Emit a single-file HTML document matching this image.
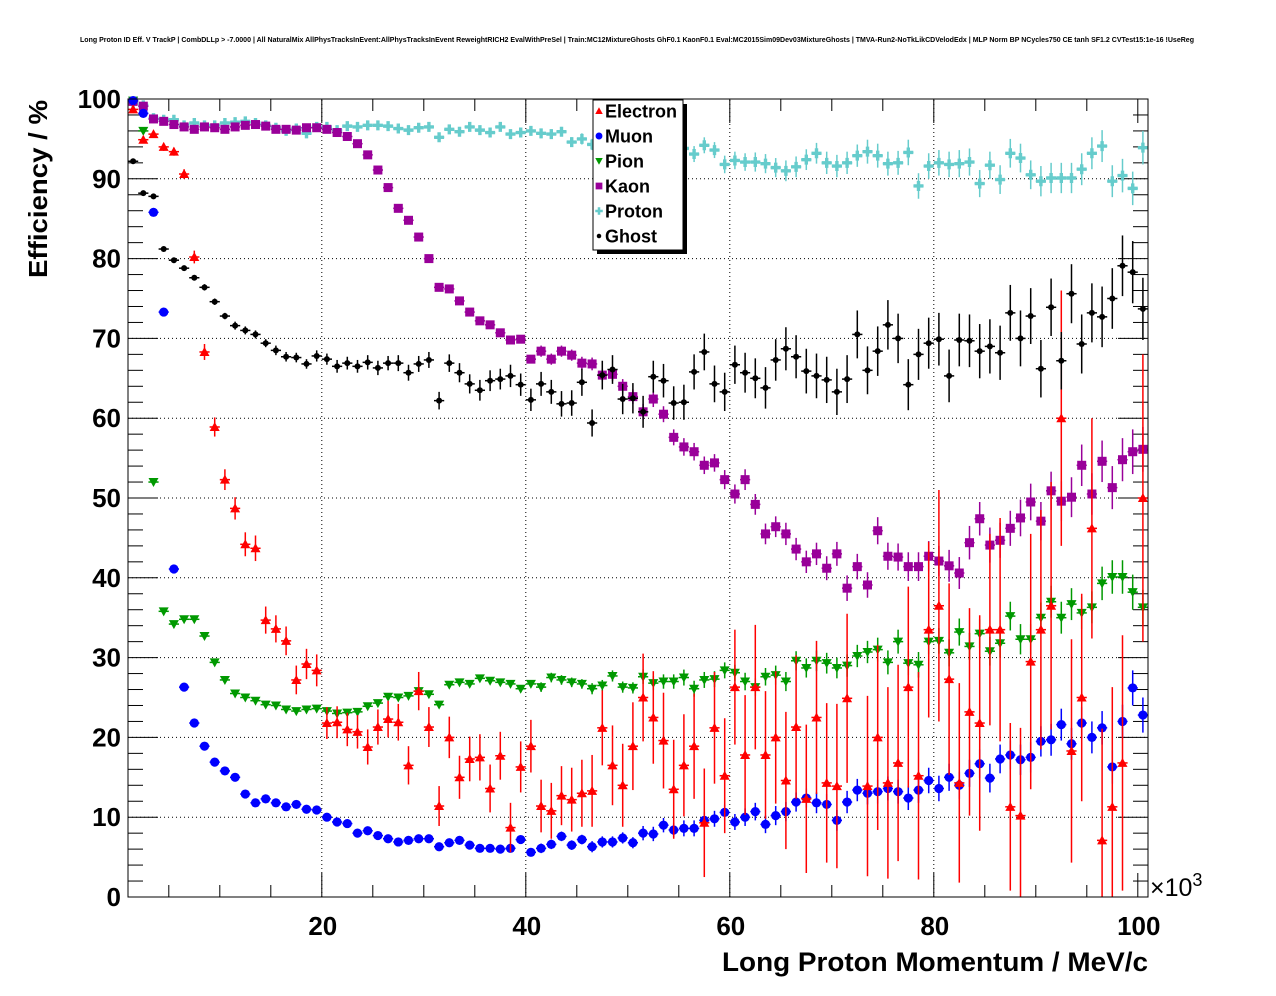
<!DOCTYPE html>
<html><head><meta charset="utf-8"><style>
html,body{margin:0;padding:0;background:#fff;}
svg{display:block;font-family:"Liberation Sans",Arial,sans-serif;}
</style></head><body>
<svg id="chart" width="1276" height="996" viewBox="0 0 1276 996" xmlns="http://www.w3.org/2000/svg">
<rect x="0" y="0" width="1276" height="996" fill="#fff"/>
<text x="637" y="42" font-size="7" font-weight="bold" text-anchor="middle" textLength="1114" lengthAdjust="spacingAndGlyphs">Long Proton ID Eff. V TrackP | CombDLLp &gt; -7.0000 | All NaturalMix AllPhysTracksInEvent:AllPhysTracksInEvent ReweightRICH2 EvalWithPreSel | Train:MC12MixtureGhosts GhF0.1 KaonF0.1 Eval:MC2015Sim09Dev03MixtureGhosts | TMVA-Run2-NoTkLikCDVelodEdx | MLP Norm BP NCycles750 CE tanh SF1.2 CVTest15:1e-16 !UseReg</text>
<g id="grid"></g>
<g id="axes"></g>
<g id="series"></g>
<rect x="128" y="99" width="1020" height="798" fill="none" stroke="#000" stroke-width="1"/>
<text x="47" y="100" font-size="26" font-weight="bold" text-anchor="end" textLength="178" lengthAdjust="spacingAndGlyphs" transform="rotate(-90 47 100)">Efficiency / %</text>
<text x="1148" y="971" font-size="27" font-weight="bold" text-anchor="end" textLength="426" lengthAdjust="spacingAndGlyphs">Long Proton Momentum / MeV/c</text>
<text x="1150" y="896" font-size="25">×10<tspan dy="-10" font-size="18">3</tspan></text>
<g id="legend">
<rect x="597" y="104" width="90" height="150" fill="#000"/>
<rect x="593" y="100" width="90" height="150" fill="#fff" stroke="#000" stroke-width="1"/>
</g>
</svg>
<script>
const categories = Array.from({length:100},(_,i)=>i+1.5);
const yTicks = [0,10,20,30,40,50,60,70,80,90,100];
const xTicks = [20,40,60,80,100];
const seriesNames = ["Electron","Muon","Pion","Kaon","Proton","Ghost"];
const electron = [98.7,94.9,95.6,94,93.4,90.6,80.2,68.3,58.9,52.3,
48.7,44.2,43.7,34.7,33.6,32.1,27.2,29.2,28.4,21.8,
21.9,21,20.7,18.8,21.3,22.3,21.9,16.5,25.8,21.3,
11.4,20,15,17.3,17.5,13.6,17.7,8.7,16.3,18.9,
11.4,10.8,12.7,12.2,13,13.3,21.2,16.5,14,18.9,
25,22.5,19.6,13.5,16.5,18.9,9.3,21.2,15.2,26.3,
17.8,26.3,17.8,20,14.6,21.3,12.3,22.5,14.3,13.9,
24.9,null,13.9,20,14.3,16.8,26.3,15.2,33.5,36.5,
27.3,14.3,23.2,21.8,33.5,33.5,11.3,10.2,29.5,33.5,
36.5,60,18.3,25,46.2,7.1,11.3,16.8,null,50];
const electronErr = [0.3,0.4,0.4,0.5,0.5,0.6,0.8,1,1.2,1.3,
1.4,1.5,1.6,1.7,1.7,1.8,1.8,1.9,2,2,
2,2.1,2.1,2.2,2.2,2.3,2.3,2.4,2.4,2.5,
2.5,2.6,2.7,2.8,2.9,3,3,3.1,3.2,3.3,
3.3,3.5,3.7,4,4.2,4.5,4.7,5,5.2,5.5,
5.5,5.8,6,6.2,6.4,6.6,6.8,7,7.2,7.2,
7.5,7.8,8,8.3,8.6,9,9.3,9.6,10,10.3,
10.6,11,11.3,11.6,12,12.3,12.6,13,11,14.5,
12,12.5,13,13.5,12,14,10.5,11,16,15,
15.5,16,14,13,13.8,14,15,16,16,18];
const muon = [99.8,98.2,85.8,73.3,41.1,26.3,21.8,18.9,16.9,15.8,
15,12.9,11.8,12.3,11.8,11.3,11.6,11,10.9,10,
9.4,9.2,8,8.3,7.7,7.3,6.9,7.1,7.3,7.3,
6.3,6.8,7.1,6.5,6.1,6.1,6,6.1,7.2,5.6,
6.1,6.6,7.6,6.5,7.2,6.3,6.9,6.9,7.4,6.8,
8,7.9,9,8.4,8.6,8.6,9.6,9.8,10.6,9.4,
10,10.7,9.1,10.2,10.7,11.9,12.4,11.8,11.6,9.6,
11.9,13.4,13,13.2,13.6,13.2,12.4,13.4,14.6,13.6,
15,14,15.5,16.7,14.9,17.3,17.8,17.2,17.5,19.5,
19.7,21.6,19.2,21.8,20,21.2,16.3,22,26.2,22.8];
const muonErr = [0.2,0.2,0.2,0.2,0.2,0.2,0.2,0.2,0.2,0.2,
0.2,0.2,0.2,0.2,0.2,0.2,0.2,0.2,0.2,0.2,
0.3,0.3,0.3,0.3,0.3,0.3,0.3,0.3,0.3,0.3,
0.4,0.4,0.4,0.4,0.4,0.4,0.4,0.4,0.4,0.4,
0.6,0.6,0.6,0.6,0.6,0.7,0.7,0.7,0.7,0.7,
0.9,0.9,0.9,0.9,1,1,1,1,1,1,
1.1,1.1,1.1,1.2,1.2,1.2,1.2,1.3,1.3,1.3,
1.4,1.4,1.4,1.5,1.5,1.5,1.5,1.6,1.6,1.6,
1.7,1.7,1.7,1.8,1.8,1.8,1.8,1.9,1.9,1.9,
2,2,2,2,2,2.1,2.1,2.1,2.2,2.2];
const pion = [99.8,96,52,35.8,34.2,34.8,34.8,32.7,29.4,27.2,
25.5,25,24.6,24.1,24,23.5,23.3,23.5,23.6,23.3,
23,23.1,23.2,23.9,24.3,25.1,25,25.2,25.8,25.4,
24.1,26.6,26.9,26.7,27.4,27.1,26.9,26.7,26.1,26.7,
26.3,27.5,27.2,26.9,26.7,26.1,26.5,27.7,26.3,26.2,
27.6,26.8,27,27,27.5,26.1,27.2,27.3,28.4,28.1,
27,26.3,27.6,27.8,27,29.6,28.7,29.6,29.3,28.7,
29,30.2,30.7,31,29.4,32,29.3,29.1,32,32.1,
30.6,33.2,31.4,33,30.8,31.8,35.2,32.3,32.3,35,
37,35,36.7,35.6,36.3,39.3,40.1,40.1,38.2,36.3];
const pionErr = [0.2,0.2,0.2,0.2,0.2,0.2,0.2,0.2,0.2,0.2,
0.3,0.3,0.3,0.3,0.3,0.3,0.3,0.3,0.3,0.3,
0.3,0.3,0.3,0.3,0.3,0.3,0.3,0.3,0.3,0.3,
0.4,0.4,0.4,0.4,0.4,0.4,0.4,0.4,0.4,0.4,
0.6,0.6,0.6,0.6,0.6,0.7,0.7,0.7,0.7,0.7,
0.9,0.9,0.9,0.9,1,1,1,1,1,1,
1.1,1.1,1.1,1.2,1.2,1.2,1.2,1.3,1.3,1.3,
1.4,1.4,1.4,1.5,1.5,1.5,1.5,1.6,1.6,1.6,
1.7,1.7,1.7,1.8,1.8,1.8,1.8,1.9,1.9,1.9,
2,2,2,2,2,2.1,2.1,2.1,2.2,2.2];
const kaon = [99.7,99.1,97.5,97.2,96.8,96.5,96.2,96.5,96.4,96.2,
96.5,96.7,96.8,96.6,96.2,96.2,96.1,96.4,96.4,96.2,
95.8,95.3,94.4,93,91.1,88.9,86.3,84.8,82.7,80,
76.4,76.2,74.7,73.3,72.2,71.7,70.7,69.8,69.9,67.4,
68.4,67.4,68.4,67.9,66.9,66.8,65.4,65.5,64,62.7,
60.8,62.4,60.5,57.6,56.4,55.8,54.1,54.4,52.3,50.5,
52.3,49.2,45.5,46.4,45.5,43.6,42,43,41.2,43,
38.7,41.4,39.1,45.9,42.7,42.6,41.4,41.4,42.7,42.1,
41.5,40.6,44.4,47.4,44.1,44.7,46.2,47.5,49.5,47.1,
50.9,49.6,50.1,54.1,50.5,54.6,51.3,54.8,55.8,56.1];
const kaonErr = [0.2,0.2,0.2,0.2,0.2,0.2,0.2,0.2,0.2,0.2,
0.2,0.2,0.2,0.2,0.2,0.2,0.2,0.2,0.2,0.2,
0.3,0.3,0.3,0.3,0.3,0.3,0.3,0.3,0.3,0.3,
0.5,0.5,0.5,0.5,0.5,0.5,0.5,0.5,0.5,0.5,
0.7,0.7,0.7,0.7,0.8,0.8,0.8,0.8,0.9,0.9,
1,1,1,1,1.1,1.1,1.1,1.1,1.2,1.2,
1.3,1.3,1.3,1.3,1.4,1.4,1.4,1.4,1.5,1.5,
1.6,1.6,1.6,1.7,1.7,1.7,1.8,1.8,1.9,1.9,
2,2,2.1,2.1,2.2,2.2,2.2,2.3,2.3,2.4,
2.4,2.5,2.5,2.6,2.6,2.6,2.7,2.7,2.8,2.8];
const proton = [99.5,99.2,97.6,97.4,97.4,96.7,97,96.7,96.7,97,
97.1,97.2,97,96.7,96.4,96,96.3,95.7,96.5,96.5,
96.1,96.6,96.5,96.7,96.7,96.6,96.3,96.1,96.4,96.5,
95.2,96.2,95.9,96.5,96.1,95.8,96.5,95.6,95.8,96,
95.7,95.6,95.9,94.6,95,94.3,94.8,94.6,94.8,94.3,
94.5,94.2,94.4,94,93.8,93.1,94.2,93.6,91.8,92.3,
92.1,92.1,91.9,91.4,91,91.5,92.4,93.2,92,91.6,
92,92.9,93.4,92.9,91.9,92,93.3,89.1,91.6,92,
91.8,91.9,92.1,89.4,91.7,89.9,93.2,92.6,90.5,89.7,
90.1,90.1,90.1,91.2,93.2,94.1,89.7,90.4,88.8,93.9];
const protonErr = [0.2,0.2,0.2,0.2,0.2,0.2,0.2,0.2,0.2,0.2,
0.3,0.3,0.3,0.3,0.3,0.3,0.3,0.3,0.3,0.3,
0.3,0.3,0.3,0.3,0.3,0.3,0.3,0.3,0.3,0.3,
0.4,0.4,0.4,0.4,0.4,0.5,0.5,0.5,0.5,0.5,
0.6,0.6,0.6,0.6,0.7,0.7,0.7,0.7,0.8,0.8,
0.8,0.9,0.9,0.9,1,1,1,1,1.1,1.1,
1.1,1.2,1.2,1.2,1.3,1.3,1.3,1.3,1.4,1.4,
1.4,1.4,1.5,1.5,1.5,1.5,1.6,1.6,1.6,1.6,
1.6,1.7,1.7,1.7,1.7,1.8,1.8,1.8,1.8,1.9,
1.9,1.9,1.9,2,2,2,2,2.1,2.1,2.1];
const ghost = [92.2,88.2,87.8,81.2,79.8,78.8,77.6,76.4,74.6,72.8,
71.6,71,70.5,69.4,68.5,67.7,67.6,66.8,67.8,67.4,
66.5,66.9,66.5,67,66.3,66.9,66.9,65.7,66.8,67.3,
62.2,66.9,65.7,64.3,63.5,64.7,64.9,65.3,64.2,62.3,
64.3,63.3,61.8,61.9,64.5,59.4,65.4,66.1,62.4,62.5,
60.8,65.2,64.7,61.9,62,65.8,68.3,64.3,63.3,66.7,
65.7,65,63.8,67.3,68.7,67.7,65.9,65.3,64.8,63.3,
64.9,70.5,66,68.4,71.7,70,64.2,68,69.4,69.9,
65.3,69.8,69.7,68.4,69,68.2,73.2,70,72.8,66.2,
73.9,67.2,75.6,69.3,73.2,72.7,75,79.1,78.3,73.7];
const ghostErr = [0.3,0.3,0.3,0.3,0.3,0.3,0.3,0.4,0.4,0.4,
0.5,0.5,0.5,0.5,0.6,0.6,0.6,0.6,0.7,0.7,
0.8,0.8,0.8,0.9,0.9,0.9,1,1,1,1,
1.1,1.1,1.2,1.2,1.3,1.3,1.3,1.4,1.4,1.4,
1.5,1.5,1.6,1.6,1.7,1.7,1.8,1.8,1.9,1.9,
2,2,2.1,2.1,2.2,2.2,2.3,2.3,2.4,2.4,
2.5,2.5,2.6,2.6,2.7,2.7,2.8,2.8,2.9,2.9,
3,3,3,3.1,3.1,3.1,3.2,3.2,3.2,3.3,
3.3,3.3,3.3,3.4,3.4,3.4,3.5,3.5,3.5,3.6,
3.6,3.6,3.7,3.7,3.7,3.8,3.8,3.8,3.9,3.9];

const NS = "http://www.w3.org/2000/svg";
const X0 = 128, X1 = 1148, Y0 = 897, Y1 = 99;
const xMin = 1, xMax = 101, yMin = 0, yMax = 100;
function xs(v){ return X0 + (v - xMin) / (xMax - xMin) * (X1 - X0); }
function ys(v){ return Y0 - (v - yMin) / (yMax - yMin) * (Y0 - Y1); }
function mk(tag, attrs, parent){
  const el = document.createElementNS(NS, tag);
  for (const k in attrs) el.setAttribute(k, attrs[k]);
  parent.appendChild(el);
  return el;
}
const grid = document.getElementById('grid');
const axes = document.getElementById('axes');
const series = document.getElementById('series');

yTicks.forEach(t => {
  if (t <= yMin || t >= yMax) return;
  const l = mk('line', {x1:X0, x2:X1, y1:ys(t), y2:ys(t), stroke:'#000', 'stroke-width':1, 'stroke-dasharray':'1,3'}, grid);
  
  
});
xTicks.forEach(t => {
  if (t >= xMax - 1.5) return;
  const l = mk('line', {x1:xs(t), x2:xs(t), y1:Y0, y2:Y1, stroke:'#000', 'stroke-width':1, 'stroke-dasharray':'1,3'}, grid);
  
  
});

for (let v = 0; v <= 100; v += 2) {
  const major = v % 10 === 0;
  const len = major ? 30 : 15;
  const a = mk('line', {x1:X0, x2:X0 + len, y1:ys(v), y2:ys(v), stroke:'#000', 'stroke-width':1}, axes);
  
  
  const b = mk('line', {x1:X1, x2:X1 - len, y1:ys(v), y2:ys(v), stroke:'#000', 'stroke-width':1}, axes);
  
  
}
for (let v = 5; v <= 100; v += 5) {
  const major = v % 20 === 0;
  const len = major ? 24 : 12;
  const a = mk('line', {x1:xs(v), x2:xs(v), y1:Y0, y2:Y0 - len, stroke:'#000', 'stroke-width':1}, axes);
  
  
  const b = mk('line', {x1:xs(v), x2:xs(v), y1:Y1, y2:Y1 + len, stroke:'#000', 'stroke-width':1}, axes);
  
  
}
yTicks.forEach(t => {
  const tx = mk('text', {x:121, y:ys(t) + 9, 'font-size':26, 'font-weight':'bold', 'text-anchor':'end'}, axes);
  tx.textContent = String(t);
  
  
});
xTicks.forEach(t => {
  const tx = mk('text', {x:xs(t) + 1, y:935, 'font-size':26, 'font-weight':'bold', 'text-anchor':'middle'}, axes);
  tx.textContent = String(t);
  
  
});

function marker(kind, color, x, y, parent){
  let el;
  if (kind === 'tri-up') el = mk('polygon', {points:`${x},${y-5} ${x-5},${y+4} ${x+5},${y+4}`, fill:color}, parent);
  else if (kind === 'tri-down') el = mk('polygon', {points:`${x},${y+5} ${x-5},${y-4} ${x+5},${y-4}`, fill:color}, parent);
  else if (kind === 'circle') el = mk('circle', {cx:x, cy:y, r:4.6, fill:color}, parent);
  else if (kind === 'square') el = mk('rect', {x:x-4.5, y:y-4.5, width:9, height:9, fill:color}, parent);
  else if (kind === 'cross') el = mk('path', {d:`M${x-5},${y-1.7}h3.3v-3.3h3.4v3.3h3.3v3.4h-3.3v3.3h-3.4v-3.3h-3.3z`, fill:color}, parent);
  else el = mk('circle', {cx:x, cy:y, r:3, fill:color}, parent);
  return el;
}

const seriesDefs = [
  {name:'proton', vals:proton, errs:protonErr, color:'#66cccc', kind:'cross'},
  {name:'kaon', vals:kaon, errs:kaonErr, color:'#990099', kind:'square'},
  {name:'pion', vals:pion, errs:pionErr, color:'#009900', kind:'tri-down'},
  {name:'muon', vals:muon, errs:muonErr, color:'#0000ff', kind:'circle'},
  {name:'electron', vals:electron, errs:electronErr, color:'#ff0000', kind:'tri-up'},
  {name:'ghost', vals:ghost, errs:ghostErr, color:'#000000', kind:'dot'}
];
const halfBin = (xs(2) - xs(1)) / 2;
seriesDefs.forEach(s => {
  const g = mk('g', {}, series);
  
  
  s.vals.forEach((v, i) => {
    if (v === null || v === undefined) return;
    const cx = xs(categories[i]);
    const cy = ys(v);
    const e = s.errs[i] || 0;
    const lo = ys(Math.max(0, v - e)), hi = ys(Math.min(100, v + e));
    const pg = mk('g', {}, g);
    
    
    mk('line', {x1:cx - halfBin, x2:cx + halfBin, y1:cy, y2:cy, stroke:s.color, 'stroke-width':1.5}, pg);
    mk('line', {x1:cx, x2:cx, y1:lo, y2:hi, stroke:s.color, 'stroke-width':1.5}, pg);
    marker(s.kind, s.color, cx, cy, pg);
  });
});

const legend = document.getElementById('legend');
const legendKinds = ['tri-up','circle','tri-down','square','cross','dot'];
const legendColors = ['#ff0000','#0000ff','#009900','#990099','#66cccc','#000000'];
seriesNames.forEach((n, i) => {
  const g = mk('g', {}, legend);
  
  
  const y = 111 + i * 25;
  marker(legendKinds[i], legendColors[i], 599, y, g).setAttribute('transform', `translate(599 ${y}) scale(0.75) translate(${-599} ${-y})`);
  const t = mk('text', {x:605, y:y + 6.5, 'font-size':18, 'font-weight':'bold'}, g);
  t.textContent = n;
});
</script>
</body></html>
